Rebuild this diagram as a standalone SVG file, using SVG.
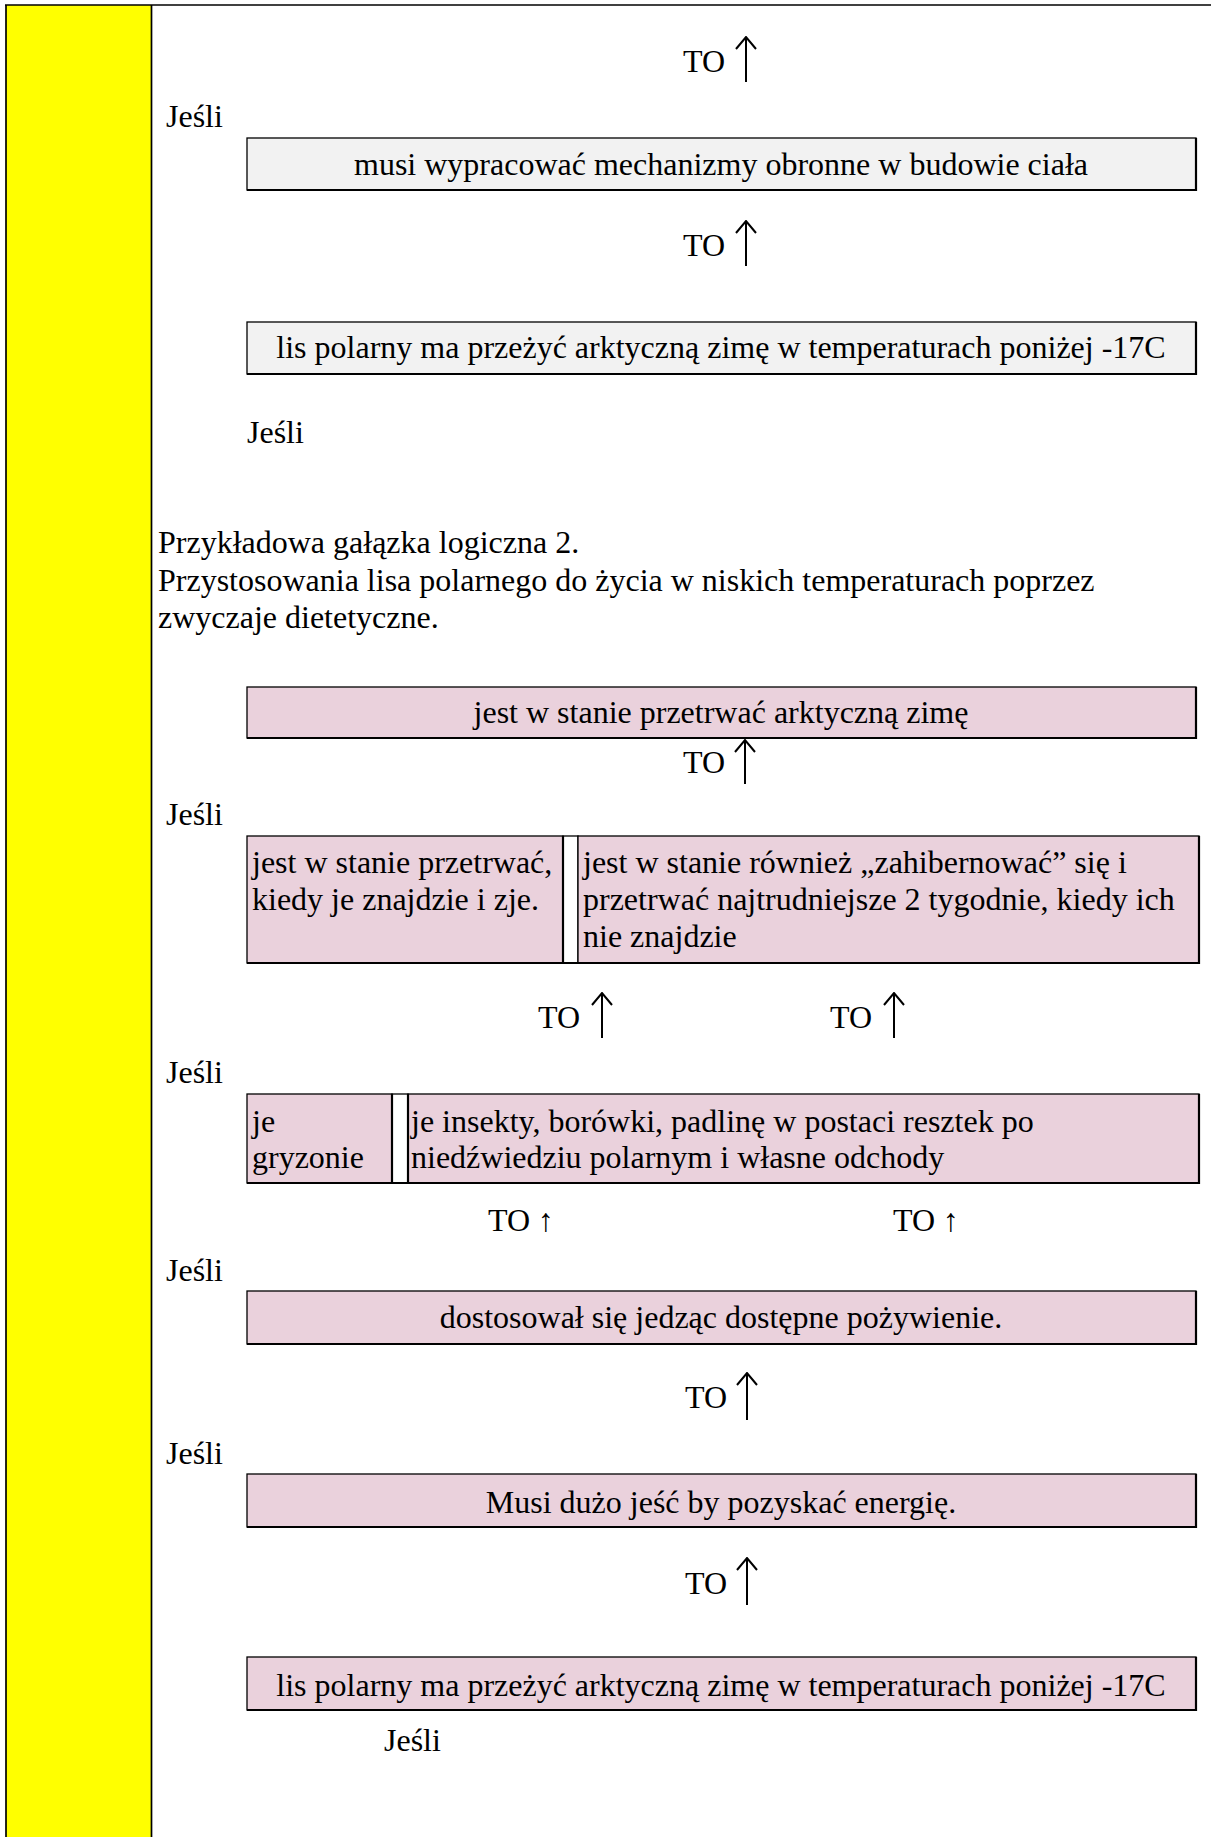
<svg xmlns="http://www.w3.org/2000/svg" width="1211" height="1837" viewBox="0 0 1211 1837">
  <style>
    text { font-family: "Liberation Serif", "Times New Roman", "DejaVu Serif", serif; font-size: 32px; fill: #000; }
    .mid { text-anchor: middle; }
    .box { stroke: #000; stroke-width: 1.3; }
    .gray { fill: #f2f2f2; }
    .pink { fill: #ead1dc; }
    .edge { stroke: #000; stroke-width: 2.2; fill: none; }
    .arrow { stroke: #000; stroke-width: 2; fill: none; marker-end: url(#head); }
    .frame { stroke: #000; stroke-width: 1.7; fill: none; }
  </style>
  <defs>
    <marker id="head" viewBox="0 0 14 22" refX="13" refY="11" markerWidth="14" markerHeight="22" markerUnits="userSpaceOnUse" orient="auto">
      <path d="M1,1 L13,11 L1,21" fill="none" stroke="#000" stroke-width="2"/>
    </marker>
  </defs>

  <rect x="0" y="0" width="1211" height="1837" fill="#fff"/>

  <!-- page frame with the yellow side strip -->
  <g id="frame">
    <rect x="6" y="5" width="145" height="1832" fill="#ffff00"/>
    <line class="frame" x1="5" y1="5" x2="1211" y2="5"/>
    <line class="frame" x1="6" y1="5" x2="6" y2="1837"/>
    <line class="frame" x1="151.5" y1="5" x2="151.5" y2="1837"/>
  </g>

  <!-- connectors: upward arrows -->
  <g id="connectors">
    <path class="arrow" d="M746,82 V37"/>
    <path class="arrow" d="M746,266 V221"/>
    <path class="arrow" d="M745,784 V740"/>
    <path class="arrow" d="M602,1038 V993"/>
    <path class="arrow" d="M894,1038 V993"/>
    <path class="arrow" d="M747,1420 V1373"/>
    <path class="arrow" d="M747,1605 V1558"/>
  </g>

  <!-- labels -->
  <g id="labels">
    <text x="683" y="72">TO</text>
    <text x="683" y="256">TO</text>
    <text x="683" y="773">TO</text>
    <text x="538" y="1028">TO</text>
    <text x="830" y="1028">TO</text>
    <text x="488" y="1231">TO ↑</text>
    <text x="893" y="1231">TO ↑</text>
    <text x="685" y="1408">TO</text>
    <text x="685" y="1594">TO</text>

    <text x="166" y="127">Jeśli</text>
    <text x="247" y="443">Jeśli</text>
    <text x="166" y="825">Jeśli</text>
    <text x="166" y="1083">Jeśli</text>
    <text x="166" y="1281">Jeśli</text>
    <text x="166" y="1464">Jeśli</text>
    <text x="384" y="1751">Jeśli</text>
  </g>

  <g id="heading">
    <text x="158" y="553">Przykładowa gałązka logiczna 2.</text>
    <text x="158" y="591">Przystosowania lisa polarnego do życia w niskich temperaturach poprzez</text>
    <text x="158" y="628">zwyczaje dietetyczne.</text>
  </g>

  <g id="box1">
    <rect class="box gray" x="247" y="138" width="949" height="52"/>
    <path class="edge" d="M247,190 H1196 V138"/>
    <text class="mid" x="721" y="175">musi wypracować mechanizmy obronne w budowie ciała</text>
  </g>

  <g id="box2">
    <rect class="box gray" x="247" y="322" width="949" height="52"/>
    <path class="edge" d="M247,374 H1196 V322"/>
    <text class="mid" x="721" y="358">lis polarny ma przeżyć arktyczną zimę w temperaturach poniżej -17C</text>
  </g>

  <g id="box3">
    <rect class="box pink" x="247" y="687" width="949" height="51"/>
    <path class="edge" d="M247,738 H1196 V687"/>
    <text class="mid" x="721" y="723">jest w stanie przetrwać arktyczną zimę</text>
  </g>

  <g id="box4">
    <rect class="box pink" x="247" y="836" width="316" height="127"/>
    <rect class="box" fill="#fff" x="563" y="836" width="15" height="127"/>
    <rect class="box pink" x="578" y="836" width="621" height="127"/>
    <path class="edge" d="M247,963 H1199 V836"/>
    <line class="edge" x1="563" y1="836" x2="563" y2="963"/>
    <text x="252" y="873">jest w stanie przetrwać,</text>
    <text x="252" y="910">kiedy je znajdzie i zje.</text>
    <text x="583" y="873">jest w stanie również „zahibernować” się i</text>
    <text x="583" y="910">przetrwać najtrudniejsze 2 tygodnie, kiedy ich</text>
    <text x="583" y="947">nie znajdzie</text>
  </g>

  <g id="box5">
    <rect class="box pink" x="247" y="1094" width="145" height="89"/>
    <rect class="box" fill="#fff" x="392" y="1094" width="16" height="89"/>
    <rect class="box pink" x="408" y="1094" width="791" height="89"/>
    <path class="edge" d="M247,1183 H1199 V1094"/>
    <line class="edge" x1="392" y1="1094" x2="392" y2="1183"/>
    <line class="edge" x1="408" y1="1094" x2="408" y2="1183"/>
    <text x="252" y="1132">je</text>
    <text x="252" y="1168">gryzonie</text>
    <text x="411" y="1132">je insekty, borówki, padlinę w postaci resztek po</text>
    <text x="411" y="1168">niedźwiedziu polarnym i własne odchody</text>
  </g>

  <g id="box6">
    <rect class="box pink" x="247" y="1291" width="949" height="53"/>
    <path class="edge" d="M247,1344 H1196 V1291"/>
    <text class="mid" x="721" y="1328">dostosował się jedząc dostępne pożywienie.</text>
  </g>

  <g id="box7">
    <rect class="box pink" x="247" y="1474" width="949" height="53"/>
    <path class="edge" d="M247,1527 H1196 V1474"/>
    <text class="mid" x="721" y="1513">Musi dużo jeść by pozyskać energię.</text>
  </g>

  <g id="box8">
    <rect class="box pink" x="247" y="1657" width="949" height="53"/>
    <path class="edge" d="M247,1710 H1196 V1657"/>
    <text class="mid" x="721" y="1696">lis polarny ma przeżyć arktyczną zimę w temperaturach poniżej -17C</text>
  </g>
</svg>
